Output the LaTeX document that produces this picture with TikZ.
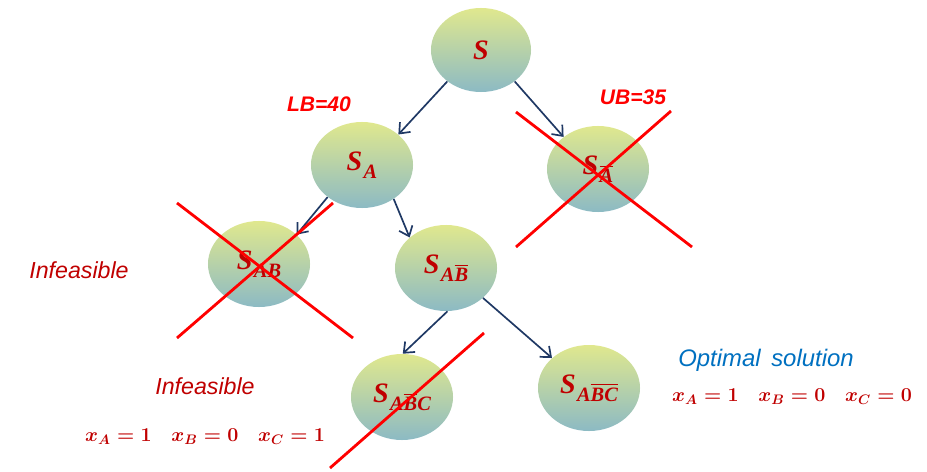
\documentclass[tikz,border=0pt]{standalone}
\usepackage{fix-cm}
\usepackage{fontspec}
\usepackage{amsmath}
\newfontfamily\arialfont{Liberation Sans}
\newfontfamily\labelfont{Liberation Serif}
\usetikzlibrary{shapes.geometric,arrows.meta}

\definecolor{gradtop}{RGB}{224,232,142}
\definecolor{gradbot}{RGB}{140,186,196}
\definecolor{labelred}{RGB}{192,0,0}
\definecolor{optblue}{RGB}{0,112,192}
\definecolor{arrownavy}{RGB}{31,56,100}

% subscript of a subproblem name, and a bar over letters
\newcommand{\subidx}[1]{\kern1pt\raisebox{-0.28em}{\fontsize{14.5}{15}\selectfont #1}}
\newcommand{\ovl}[1]{$\overline{\mbox{#1}}$}

\tikzset{
  subprob/.style={ellipse, minimum width=2.55cm, minimum height=2.15cm, inner sep=-10pt,
    top color=gradtop, bottom color=gradbot, text=labelred,
    font=\labelfont\bfseries\itshape\fontsize{20}{22}\selectfont},
  branch/.style={arrownavy, line width=1.2pt, -{Straight Barb[length=2.2mm,width=3.6mm]}},
  prune/.style={red, line width=2pt},
  bound/.style={red, font=\arialfont\bfseries\itshape\fontsize{15}{17}\selectfont},
  note/.style={labelred, font=\arialfont\itshape\fontsize{16.5}{18}\selectfont},
  optnote/.style={optblue, font=\arialfont\itshape\fontsize{17}{19}\selectfont},
  solution/.style={labelred, font=\fontsize{14}{16}\selectfont\boldmath}
}

\begin{document}
\begin{tikzpicture}[x=0.025cm, y=-0.025cm]
  \useasboundingbox (0,0) rectangle (927,472);
  % Subproblems
  \node[subprob, minimum width=2.5cm, minimum height=2.1cm] (S) at (481,50) {S};
  \node[subprob] (SA) at (362,165) {S\subidx{A}};
  \node[subprob] (SAn) at (598,169) {S\subidx{\ovl{A}}};
  \node[subprob] (SAB) at (259,264) {S\subidx{AB}};
  \node[subprob] (SABn) at (446,268) {S\subidx{A\ovl{B}}};
  \node[subprob] (SABnC) at (402,397) {S\subidx{A\ovl{B}C}};
  \node[subprob] (SABnCn) at (589,388) {S\subidx{A\ovl{BC}}};
  % Branches
  \draw[branch] (S.-137) -- (SA.40);
  \draw[branch] (S.-43) -- (SAn.137);
  \draw[branch] (SA.-137) -- (SAB.38);
  \draw[branch] (SA.-47) -- (SABn.140);
  \draw[branch] (SABn.-88) -- (SABnC.89);
  \draw[branch] (SABn.-39) -- (SABnCn.141);
  % Bounds and notes
  \node[bound] (lb) at (319,104) {LB=40};
  \node[bound] (ub) at (633,97) {UB=35};
  \node[note] (inf1) at (79,270) {Infeasible};
  \node[note] (inf2) at (205,386) {Infeasible};
  \node[optnote] (opt) at (766,360) {Optimal\, solution};
  \node[solution] (sol1) at (792,397) {$x_A=1\quad x_B=0\quad x_C=0$};
  \node[solution] (sol2) at (205,437) {$x_A=1\quad x_B=0\quad x_C=1$};
  % Pruned nodes
  \draw[prune] (516,112) -- (692,247);
  \draw[prune] (671,111) -- (516,247);
  \draw[prune] (177,203) -- (353,338);
  \draw[prune] (333,203) -- (177,338);
  \draw[prune] (484,333) -- (330,468);
\end{tikzpicture}
\end{document}
